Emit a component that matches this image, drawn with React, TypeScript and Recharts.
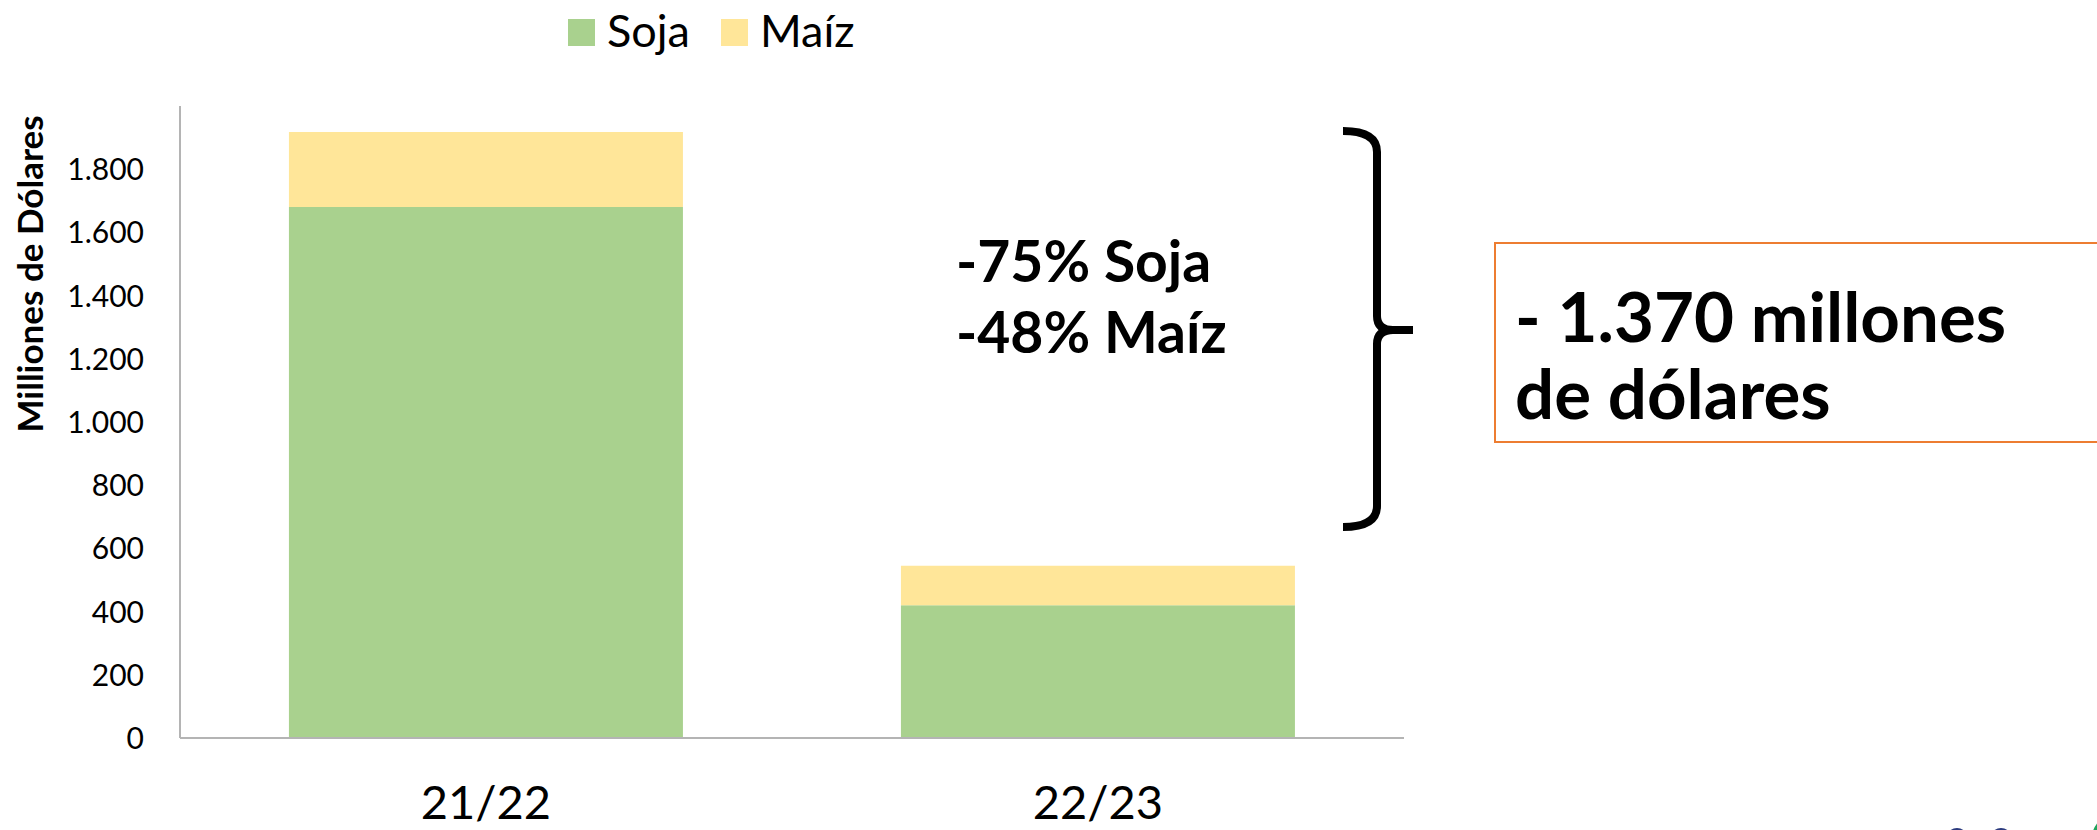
import React from 'react';
import { BarChart, Bar, XAxis, YAxis, Legend, Customized } from 'recharts';

// ---- data ----
const categories = ['21/22', '22/23'];
const sojaValues = [1680, 420];
const maizValues = [238, 125];
const seriesNames = ['Soja', 'Maíz'];
const yTicks = [0, 200, 400, 600, 800, 1000, 1200, 1400, 1600, 1800];
const yAxisTitle = 'Milliones de Dólares';
const changeLines = ['-75% Soja', '-48% Maíz'];
const boxLines = ['- 1.370 millones', 'de dólares'];

const data = categories.map((c, i) => ({ cat: c, soja: sojaValues[i], maiz: maizValues[i] }));

const COLORS = { soja: '#A9D18E', maiz: '#FFE699' };
const FONT = 'Lato, "Open Sans", sans-serif';
const W = 2097;
const H = 830;

const fmt = (v: number) => String(v).replace(/\B(?=(\d{3})+(?!\d))/g, '.');

const YTick = (props: any) => {
  const { x, y, payload } = props;
  return (
    <text x={x} y={y} dy={11} textAnchor="end" fontFamily={FONT} fontSize={30} fill="#000">
      {fmt(payload.value)}
    </text>
  );
};

const XTick = (props: any) => {
  const { x, y, payload } = props;
  return (
    <text x={x} y={y + 81} textAnchor="middle" fontFamily={FONT} fontSize={47} fill="#000">
      {payload.value}
    </text>
  );
};

const LEGEND_X = [568, 721];
const LegendContent = (props: any) => {
  const payload = [...(props.payload || [])].sort(
    (a: any, b: any) => seriesNames.indexOf(a.value) - seriesNames.indexOf(b.value)
  );
  return (
    <svg width={W} height={70} style={{ display: 'block' }}>
      {payload.map((p: any, i: number) => (
        <g key={i}>
          <rect x={LEGEND_X[i]} y={19} width={27} height={27} fill={p.color} />
          <text x={LEGEND_X[i] + 39} y={47} fontFamily={FONT} fontSize={45} fill="#000">
            {p.value}
          </text>
        </g>
      ))}
    </svg>
  );
};

const YTitle = () => (
  <text
    x={43}
    y={274}
    transform="rotate(-90 43 274)"
    textAnchor="middle"
    fontFamily={FONT}
    fontWeight={700}
    fontSize={35}
    fill="#000"
  >
    {yAxisTitle}
  </text>
);

const Annotations = () => (
  <g>
    {changeLines.map((t, i) => (
      <text key={t} x={956} y={282 + i * 71} fontFamily={FONT} fontWeight={700} fontSize={57} fill="#000">
        {t}
      </text>
    ))}
    <path
      d="M1343,131 Q1377,131 1377,152 L1377,316 Q1377,330 1393,330 L1413,330 M1393,330 Q1377,330 1377,344 L1377,506 Q1377,527 1343,527"
      fill="none"
      stroke="#000"
      strokeWidth={8}
    />
    <rect x={1495} y={243} width={700} height={199} fill="#fff" stroke="#ED7D31" strokeWidth={2} />
    {boxLines.map((t, i) => (
      <text key={t} x={1515} y={342 + i * 77} fontFamily={FONT} fontWeight={700} fontSize={69} fill="#000">
        {t}
      </text>
    ))}
    <circle cx={1957} cy={839} r={11} fill="#2B3A7E" />
    <circle cx={2001} cy={839} r={11} fill="#2B3A7E" />
    <circle cx={2122} cy={842} r={28} fill="none" stroke="#1FA35B" strokeWidth={6} />
  </g>
);

export default function App() {
  return (
    <div style={{ position: 'absolute', left: 0, top: 0, width: W, height: H, background: '#fff' }}>
      <BarChart
        width={W}
        height={H}
        data={data}
        margin={{ top: 106, right: 693, bottom: 12, left: 30 }}
        barCategoryGap="17.8%"
      >
        <XAxis
          dataKey="cat"
          height={80}
          tickLine={false}
          tickSize={0}
          tickMargin={0}
          axisLine={{ stroke: '#B4B4B4', strokeWidth: 2 }}
          tick={<XTick />}
        />
        <YAxis
          width={150}
          domain={[0, 2000]}
          ticks={yTicks}
          interval={0}
          tickLine={false}
          tickSize={0}
          tickMargin={36}
          axisLine={{ stroke: '#B4B4B4', strokeWidth: 2 }}
          tick={<YTick />}
          label={{ content: <YTitle /> }}
        />
        <Legend
          layout="vertical"
          align="center"
          verticalAlign="middle"
          wrapperStyle={{ top: 0, left: 0, width: W, height: 70 }}
          content={<LegendContent />}
        />
        <Bar dataKey="soja" name={seriesNames[0]} stackId="a" fill={COLORS.soja} isAnimationActive={false} />
        <Bar dataKey="maiz" name={seriesNames[1]} stackId="a" fill={COLORS.maiz} isAnimationActive={false} />
        <Customized component={<Annotations />} />
      </BarChart>
    </div>
  );
}
